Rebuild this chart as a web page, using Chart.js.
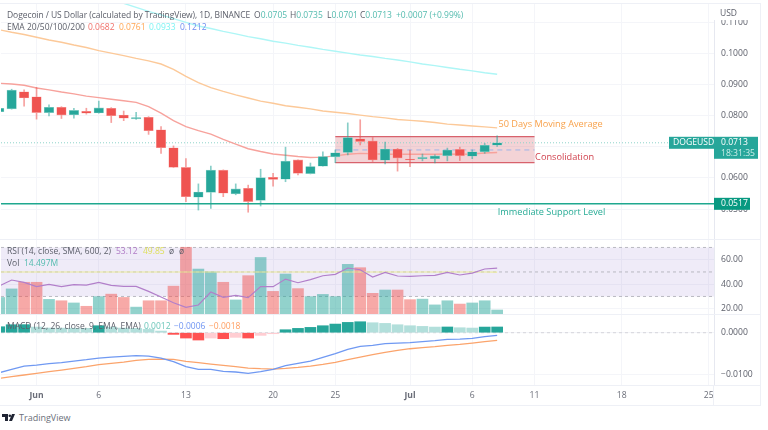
<!DOCTYPE html>
<html>
<head>
<meta charset="utf-8">
<title>DOGEUSD</title>
<script src="https://cdn.jsdelivr.net/npm/chart.js@4"></script>
<style>
  html, body { margin: 0; padding: 0; background: #fff; }
  body { width: 768px; height: 430px; overflow: hidden; position: relative; font-family: "Open Sans", sans-serif; filter: blur(0.35px); }
  .pane { position: absolute; left: 1px; width: 760px; }
  .pane canvas { display: block; }
  .frame { position: absolute; background: #eef0f6; }
  .lg { position: absolute; font-size: 8.5px; line-height: 12px; color: #5d606b; white-space: nowrap; }
  .up { color: #53bbae; }
</style>
</head>
<body>
<div class="pane" style="top:3px;height:236px"><canvas id="priceChart"></canvas></div>
<div class="pane" style="top:239px;height:75px"><canvas id="rsiChart"></canvas></div>
<div class="pane" style="top:314px;height:91px"><canvas id="macdChart"></canvas></div>

<!-- outer frame and pane separators -->
<div class="frame" style="left:0;top:3px;width:761px;height:1px"></div>
<div class="frame" style="left:0;top:239px;width:761px;height:1px"></div>
<div class="frame" style="left:0;top:314px;width:761px;height:1px"></div>
<div class="frame" style="left:0;top:385px;width:761px;height:1px"></div>
<div class="frame" style="left:0;top:405px;width:761px;height:1px"></div>
<div class="frame" style="left:760px;top:3px;width:1px;height:402px"></div>
<div class="frame" style="left:713px;top:385px;width:1px;height:20px"></div>

<div style="position:absolute;left:714px;top:4px;width:46px;height:16px;background:#fff"></div>
<div class="lg" style="left:720px;top:7px">USD</div>

<div class="lg" style="left:7px;top:9px;letter-spacing:-0.07px">Dogecoin / US Dollar (calculated by TradingView), 1D, BINANCE</div>
<div class="lg" style="left:254px;top:9px">O<span class="up">0.0705</span></div>
<div class="lg" style="left:290px;top:9px">H<span class="up">0.0735</span></div>
<div class="lg" style="left:327px;top:9px">L<span class="up">0.0701</span></div>
<div class="lg" style="left:360px;top:9px">C<span class="up">0.0713</span></div>
<div class="lg up" style="left:396px;top:9px">+0.0007 (+0.99%)</div>
<div class="lg" style="left:7px;top:21px">EMA 20/50/100/200</div>
<div class="lg" style="left:88px;top:21px;color:#f0706a">0.0682</div>
<div class="lg" style="left:119px;top:21px;color:#ffa552">0.0761</div>
<div class="lg" style="left:149px;top:21px;color:#7ff3f3">0.0933</div>
<div class="lg" style="left:180px;top:21px;color:#6f8df0">0.1212</div>

<div class="lg" style="left:7px;top:245px">RSI (14, close, SMA, 600, 2)</div>
<div class="lg" style="left:116px;top:245px;color:#b07cc6">53.12</div>
<div class="lg" style="left:143px;top:245px;color:#dfe05e">49.85</div>
<div class="lg" style="left:169px;top:245px">ø</div>
<div class="lg" style="left:179px;top:245px">ø</div>
<div class="lg" style="left:7px;top:257px">Vol</div>
<div class="lg" style="left:24px;top:257px;color:#53bbae">14.497M</div>
<div class="lg" style="left:7px;top:320px">MACD (12, 26, close, 9, EMA, EMA)</div>
<div class="lg" style="left:144px;top:320px;color:#6cc6ba">0.0012</div>
<div class="lg" style="left:174px;top:320px;color:#6f94f2">−0.0006</div>
<div class="lg" style="left:209px;top:320px;color:#ff9f62">−0.0018</div>

<svg style="position:absolute;left:2px;top:414px" width="13" height="8" viewBox="0 0 13 8">
  <path d="M0 0h6v7H3V3H0z M7 7l3-7h3l-3 7z M6.5 1.8a1.3 1.3 0 1 0 2.6 0a1.3 1.3 0 1 0-2.6 0z" fill="#1f2433"/>
</svg>
<div class="lg" style="left:19px;top:411px;font-size:9px;line-height:14px;color:#6b6f7a">TradingView</div>

<script>
// days counted from Jun 1, one per candle
const days = [-3, -2, -1, 0, 1, 2, 3, 4, 5, 6, 7, 8, 9, 10, 11, 12, 13, 14, 15, 16, 17, 18, 19, 20, 21, 22, 23, 24, 25, 26, 27, 28, 29, 30, 31, 32, 33, 34, 35, 36, 37];
const timeTickDays = [0, 5, 12, 19, 24, 30, 35, 40, 47, 54];
const timeTickLabels = ['Jun', '6', '13', '20', '25', 'Jul', '6', '11', '18', '25'];
const xRange = [-2.856, 54.42];

const opens =  [0.0813, 0.0822, 0.0877, 0.0861, 0.0810, 0.0827, 0.0803, 0.0814, 0.0809, 0.0824, 0.0802, 0.0790, 0.0795, 0.0755, 0.0697, 0.0634, 0.0538, 0.0554, 0.0625, 0.0549, 0.0567, 0.0528, 0.0602, 0.0596, 0.0658, 0.0614, 0.0638, 0.0668, 0.0682, 0.0726, 0.0719, 0.0657, 0.0693, 0.0661, 0.0662, 0.0662, 0.0671, 0.0692, 0.0670, 0.0684, 0.0705];
const highs =  [0.0829, 0.0885, 0.0883, 0.0891, 0.0835, 0.0829, 0.0824, 0.0824, 0.0847, 0.0826, 0.0815, 0.0811, 0.0797, 0.0765, 0.0703, 0.0662, 0.0581, 0.0638, 0.0626, 0.0581, 0.0577, 0.0628, 0.0615, 0.0699, 0.0658, 0.0648, 0.0684, 0.0690, 0.0777, 0.0787, 0.0730, 0.0715, 0.0695, 0.0690, 0.0677, 0.0674, 0.0696, 0.0699, 0.0690, 0.0711, 0.0735];
const lows =   [0.0810, 0.0821, 0.0831, 0.0789, 0.0799, 0.0791, 0.0792, 0.0805, 0.0808, 0.0778, 0.0784, 0.0788, 0.0740, 0.0679, 0.0633, 0.0524, 0.0497, 0.0502, 0.0540, 0.0546, 0.0490, 0.0510, 0.0574, 0.0588, 0.0610, 0.0613, 0.0638, 0.0649, 0.0674, 0.0706, 0.0653, 0.0645, 0.0622, 0.0636, 0.0655, 0.0648, 0.0655, 0.0656, 0.0662, 0.0679, 0.0701];
const closes = [0.0824, 0.0882, 0.0857, 0.0810, 0.0827, 0.0802, 0.0817, 0.0808, 0.0825, 0.0800, 0.0792, 0.0794, 0.0752, 0.0697, 0.0634, 0.0540, 0.0555, 0.0625, 0.0551, 0.0565, 0.0524, 0.0601, 0.0595, 0.0654, 0.0615, 0.0637, 0.0669, 0.0681, 0.0730, 0.0717, 0.0658, 0.0693, 0.0664, 0.0658, 0.0666, 0.0671, 0.0690, 0.0671, 0.0684, 0.0705, 0.0713];

const ema20 = [0.0904, 0.0902, 0.0898, 0.0889, 0.0883, 0.0876, 0.0870, 0.0863, 0.0858, 0.0853, 0.0848, 0.0843, 0.0829, 0.0808, 0.0784, 0.0765, 0.0752, 0.0741, 0.0724, 0.0709, 0.0694, 0.0685, 0.0677, 0.0673, 0.0669, 0.0666, 0.0667, 0.0671, 0.0676, 0.0679, 0.0678, 0.0676, 0.0676, 0.0676, 0.0676, 0.0676, 0.0677, 0.0676, 0.0677, 0.0680, 0.0682];
const ema50 = [0.1076, 0.1068, 0.1061, 0.1052, 0.1043, 0.1036, 0.1027, 0.1019, 0.1009, 0.1001, 0.0993, 0.0984, 0.0976, 0.0966, 0.0949, 0.0926, 0.0906, 0.0890, 0.0878, 0.0867, 0.0857, 0.0847, 0.0840, 0.0832, 0.0827, 0.0822, 0.0815, 0.0811, 0.0807, 0.0802, 0.0797, 0.0793, 0.0788, 0.0785, 0.0782, 0.0778, 0.0773, 0.0770, 0.0767, 0.0764, 0.0761];
const ema100 = [null, null, null, null, null, null, null, null, 0.1185, 0.1173, 0.1161, 0.1148, 0.1135, 0.1124, 0.1112, 0.1100, 0.1088, 0.1080, 0.1071, 0.1063, 0.1054, 0.1047, 0.1039, 0.1033, 0.1026, 0.1020, 0.1013, 0.1007, 0.1001, 0.0995, 0.0990, 0.0984, 0.0979, 0.0973, 0.0966, 0.0961, 0.0955, 0.0949, 0.0944, 0.0938, 0.0933];
const priceTicks = [0.11, 0.10, 0.09, 0.08, 0.07, 0.06, 0.05];
const priceRange = [0.0404, 0.1162];

const lastClose = 0.0713;
const supportLevel = 0.0517;
const consolidationDays = [24, 40];
const consolidationPrices = [0.0649, 0.0690, 0.0733];

const rsi = [38.5, 43.4, 41.5, 38.0, 39.9, 38.0, 39.6, 39.3, 41.5, 39.0, 38.2, 38.2, 34.1, 29.5, 24.9, 21.1, 23.0, 33.6, 29.3, 30.9, 29.0, 38.0, 38.0, 44.2, 41.2, 43.7, 46.9, 48.0, 53.2, 51.8, 45.9, 49.7, 46.7, 46.4, 46.9, 47.2, 49.7, 47.5, 49.1, 52.4, 53.1];
const rsiSma = [50.0, 50.0, 50.0, 50.0, 50.0, 50.0, 50.0, 50.0, 50.0, 50.0, 50.0, 50.0, 49.9, 49.9, 49.9, 49.9, 49.9, 49.9, 49.9, 49.9, 49.9, 49.9, 49.9, 49.9, 49.9, 49.9, 49.9, 49.9, 49.9, 49.9, 49.9, 49.9, 49.9, 49.9, 49.9, 49.9, 49.9, 49.9, 49.9, 49.9, 49.85];
const volumes = [60, 91, 115, 115, 53, 48, 40, 28, 63, 72, 60, 25, 48, 48, 101, 242, 163, 153, 115, 51, 139, 205, 82, 145, 92, 63, 71, 63, 180, 168, 75, 87, 87, 52, 54, 33, 48, 36, 40, 48, 14.5];
const rsiBands = [70, 50, 30];
const rsiTicks = [60, 40, 20];
const rsiRange = [15.67, 76.9];
const volRange = [0, 272];

const macdLine = [-0.00961, -0.00881, -0.00801, -0.00777, -0.00745, -0.00721, -0.00681, -0.00649, -0.00609, -0.00585, -0.00569, -0.00553, -0.00561, -0.00609, -0.00697, -0.00817, -0.00881, -0.00881, -0.00929, -0.00945, -0.00977, -0.00937, -0.00881, -0.00793, -0.00737, -0.00681, -0.00593, -0.00505, -0.00401, -0.00328, -0.00304, -0.00264, -0.00248, -0.0024, -0.00216, -0.00192, -0.0016, -0.00152, -0.00136, -0.00096, -0.00064];
const macdSignal = [-0.01097, -0.01057, -0.01017, -0.00977, -0.00937, -0.00897, -0.00857, -0.00817, -0.00769, -0.00737, -0.00705, -0.00665, -0.00641, -0.00633, -0.00641, -0.00689, -0.00721, -0.00753, -0.00785, -0.00817, -0.00849, -0.00865, -0.00873, -0.00857, -0.00833, -0.00801, -0.00761, -0.00713, -0.00649, -0.00585, -0.00529, -0.00473, -0.00425, -0.00385, -0.0036, -0.00336, -0.00304, -0.0028, -0.00248, -0.00216, -0.00184];
const macdHist = [0.00144, 0.00192, 0.00194, 0.00136, 0.00112, 0.0011, 0.00108, 0.00106, 0.00168, 0.00136, 0.00112, 0.00104, 0.0008, 0.0004, -0.0004, -0.00128, -0.00176, -0.00128, -0.00144, -0.00112, -0.00128, -0.00064, -0.00024, 0.00072, 0.00104, 0.00128, 0.00168, 0.00208, 0.00248, 0.00264, 0.0024, 0.00224, 0.00192, 0.00168, 0.00152, 0.00136, 0.00138, 0.0012, 0.00112, 0.00136, 0.00138];
const macdTicks = [0, -0.01];
const macdRange = [-0.01257, 0.0045];

const green = '#26a69a';
const red = '#ef5350';
const gridColor = '#f4f5f9';
const bandLine = '#b9b9c2';
const axisFont = { family: '"Open Sans", sans-serif', size: 8.6 };
const rightWidth = 47;

Chart.defaults.animation = false;
Chart.defaults.responsive = true;
Chart.defaults.maintainAspectRatio = false;
Chart.defaults.font.family = axisFont.family;

const isUp = i => closes[i] >= opens[i];
const lineSet = (data, color, width, yAxisID) => ({
    type: 'line', data, borderColor: color, borderWidth: width, pointRadius: 0,
    tension: 0, order: 3, yAxisID: yAxisID || 'y', spanGaps: false
});

// same x axis on all panes, only the last one shows its labels
function xAxis(showLabels) {
    return {
        type: 'linear', min: xRange[0], max: xRange[1], offset: false,
        border: { display: false },
        grid: { color: gridColor, drawTicks: false, offset: false },
        afterBuildTicks: s => { s.ticks = timeTickDays.map(v => ({ value: v })); },
        afterFit: s => {
            s.paddingLeft = 0; s.paddingRight = 0;
            s.height = showLabels ? 20 : 0;
        },
        ticks: {
            display: showLabels, autoSkip: false, maxRotation: 0, padding: 5, color: '#6a6d78',
            font: c => ({ ...axisFont, weight: /J/.test(timeTickLabels[c.index] || '') ? 'bold' : 'normal' }),
            callback: (v, i) => timeTickLabels[i]
        }
    };
}

function yAxis(range, tickList, digits) {
    return {
        position: 'right', min: range[0], max: range[1],
        border: { color: '#e6e8f0' },
        grid: { color: gridColor, drawTicks: false },
        afterBuildTicks: s => { s.ticks = tickList.map(v => ({ value: v })); },
        afterFit: s => { s.width = rightWidth; s.paddingTop = 0; s.paddingBottom = 0; },
        ticks: {
            autoSkip: false, padding: 7, color: '#5d606b', font: axisFont,
            callback: v => v.toFixed(digits).replace('-', '−')
        }
    };
}

const basePlugins = { legend: { display: false }, tooltip: { enabled: false } };

// --- 1. candles, EMAs and the drawn levels ---
const priceDecor = {
    id: 'priceDecor',
    beforeDatasetsDraw(chart) {
        const { ctx, chartArea: a, scales: { x, y } } = chart;
        const left = x.getPixelForValue(consolidationDays[0]);
        const right = x.getPixelForValue(consolidationDays[1]);
        const top = y.getPixelForValue(consolidationPrices[2]);
        const bottom = y.getPixelForValue(consolidationPrices[0]);
        const mid = y.getPixelForValue(consolidationPrices[1]);
        ctx.save();
        ctx.fillStyle = 'rgba(214, 110, 120, 0.3)';
        ctx.fillRect(left, top, right - left, bottom - top);
        ctx.strokeStyle = '#d8626c';
        ctx.lineWidth = 1.3;
        ctx.beginPath();
        ctx.moveTo(left, top); ctx.lineTo(right, top);
        ctx.moveTo(left, bottom); ctx.lineTo(right, bottom);
        ctx.stroke();
        ctx.strokeStyle = '#9fb4ea';
        ctx.lineWidth = 1;
        ctx.setLineDash([5, 4]);
        ctx.beginPath();
        ctx.moveTo(left, mid); ctx.lineTo(right, mid);
        ctx.stroke();
        // dotted line of the last price
        const last = y.getPixelForValue(lastClose);
        ctx.strokeStyle = '#8fd3ca';
        ctx.setLineDash([1, 2]);
        ctx.beginPath();
        ctx.moveTo(a.left, last); ctx.lineTo(a.right, last);
        ctx.stroke();
        ctx.restore();
    },
    afterDatasetsDraw(chart) {
        const { ctx, chartArea: a, scales: { x, y } } = chart;
        ctx.save();
        const sup = y.getPixelForValue(supportLevel);
        ctx.strokeStyle = '#1fa88f';
        ctx.lineWidth = 1.6;
        ctx.beginPath();
        ctx.moveTo(a.left, sup); ctx.lineTo(a.right, sup);
        ctx.stroke();

        ctx.textBaseline = 'middle';
        ctx.font = '9.2px "Open Sans", sans-serif';
        ctx.fillStyle = '#f8a24c';
        ctx.fillText('50 Days Moving Average', x.getPixelForValue(37.1), y.getPixelForValue(0.0772));
        ctx.fillStyle = '#d1434f';
        ctx.fillText('Consolidation', x.getPixelForValue(40.05), y.getPixelForValue(0.0666));
        ctx.fillStyle = '#26ab95';
        ctx.fillText('Immediate Support Level', x.getPixelForValue(37.05), y.getPixelForValue(0.0491));

        // tags on the axis
        ctx.font = axisFont.size + 'px ' + axisFont.family;
        const last = y.getPixelForValue(lastClose);
        ctx.fillStyle = '#26a69a';
        ctx.fillRect(a.right - 45, last - 6, 45, 12);
        ctx.fillRect(a.right, last - 6, 44, 22);
        ctx.fillStyle = '#fff';
        ctx.fillText('DOGEUSD', a.right - 41, last);
        ctx.fillText(lastClose.toFixed(4), a.right + 7, last);
        ctx.fillStyle = '#cdeee9';
        ctx.fillText('18:31:35', a.right + 7, last + 11);
        ctx.fillStyle = '#089981';
        ctx.fillRect(a.right, sup - 6, 36, 12);
        ctx.fillStyle = '#fff';
        ctx.fillText(supportLevel.toFixed(4), a.right + 7, sup);
        ctx.restore();
    }
};

new Chart(document.getElementById('priceChart'), {
    type: 'bar',
    data: {
        labels: days,
        datasets: [
            {
                data: days.map((d, i) => [lows[i], highs[i]]),
                backgroundColor: days.map((d, i) => isUp(i) ? 'rgba(38,166,154,0.55)' : 'rgba(239,83,80,0.55)'),
                barThickness: 1, grouped: false, order: 2
            },
            {
                data: days.map((d, i) => [opens[i], closes[i]]),
                backgroundColor: days.map((d, i) => isUp(i) ? green : red),
                borderColor: days.map((d, i) => isUp(i) ? '#8fd3ca' : '#f8aaa8'),
                borderWidth: 0.6, borderSkipped: false,
                barThickness: 9.5, grouped: false, order: 1
            },
            lineSet(ema20, '#f7a29c', 1.4),
            lineSet(ema50, '#fcc999', 1.4),
            lineSet(ema100, '#aef6f6', 1.4)
        ]
    },
    options: {
        layout: { padding: 0 },
        plugins: basePlugins,
        scales: { x: xAxis(false), y: yAxis(priceRange, priceTicks, 4) }
    },
    plugins: [priceDecor]
});

// --- 2. RSI with volume on a hidden scale ---
const rsiDecor = {
    id: 'rsiDecor',
    beforeDatasetsDraw(chart) {
        const { ctx, chartArea: a, scales: { y } } = chart;
        const top = y.getPixelForValue(rsiBands[0]);
        const bottom = y.getPixelForValue(rsiBands[2]);
        ctx.save();
        ctx.fillStyle = 'rgba(126, 87, 194, 0.12)';
        ctx.fillRect(a.left, top, a.right - a.left, bottom - top);
        ctx.strokeStyle = bandLine;
        ctx.setLineDash([3, 3]);
        ctx.lineWidth = 1;
        rsiBands.forEach(b => {
            const p = y.getPixelForValue(b);
            ctx.beginPath();
            ctx.moveTo(a.left, p); ctx.lineTo(a.right, p);
            ctx.stroke();
        });
        ctx.restore();
    }
};

new Chart(document.getElementById('rsiChart'), {
    type: 'bar',
    data: {
        labels: days,
        datasets: [
            {
                data: volumes, yAxisID: 'vol', order: 4, barThickness: 11,
                backgroundColor: days.map((d, i) => isUp(i) ? 'rgba(38,166,154,0.5)' : 'rgba(239,83,80,0.5)')
            },
            lineSet(rsiSma, '#ecec9a', 1.1),
            { ...lineSet(rsi, '#b27fca', 1.2), order: 1 }
        ]
    },
    options: {
        layout: { padding: 0 },
        plugins: basePlugins,
        scales: {
            x: xAxis(false),
            y: yAxis(rsiRange, rsiTicks, 2),
            vol: {
                display: false, min: volRange[0], max: volRange[1],
                afterFit: s => { s.width = 0; s.paddingTop = 0; s.paddingBottom = 0; }
            }
        }
    },
    plugins: [rsiDecor]
});

// --- 3. MACD and the time axis ---
const histColor = (v, i) => {
    const rising = i === 0 || v >= macdHist[i - 1];
    if (v >= 0) return rising ? green : '#b2dfdb';
    return rising ? '#ffcdd2' : '#ff5252';
};

const zeroLine = {
    id: 'zeroLine',
    beforeDatasetsDraw(chart) {
        const { ctx, chartArea: a, scales: { y } } = chart;
        const p = y.getPixelForValue(macdTicks[0]);
        ctx.save();
        ctx.strokeStyle = '#d4d4da';
        ctx.setLineDash([3, 3]);
        ctx.beginPath();
        ctx.moveTo(a.left, p); ctx.lineTo(a.right, p);
        ctx.stroke();
        ctx.restore();
    }
};

new Chart(document.getElementById('macdChart'), {
    type: 'bar',
    data: {
        labels: days,
        datasets: [
            { data: macdHist, barThickness: 11, order: 4, backgroundColor: macdHist.map(histColor) },
            lineSet(macdLine, '#7099f2', 1.3),
            lineSet(macdSignal, '#fba46c', 1.3)
        ]
    },
    options: {
        layout: { padding: 0 },
        plugins: basePlugins,
        scales: { x: xAxis(true), y: yAxis(macdRange, macdTicks, 4) }
    },
    plugins: [zeroLine]
});
</script>
</body>
</html>
